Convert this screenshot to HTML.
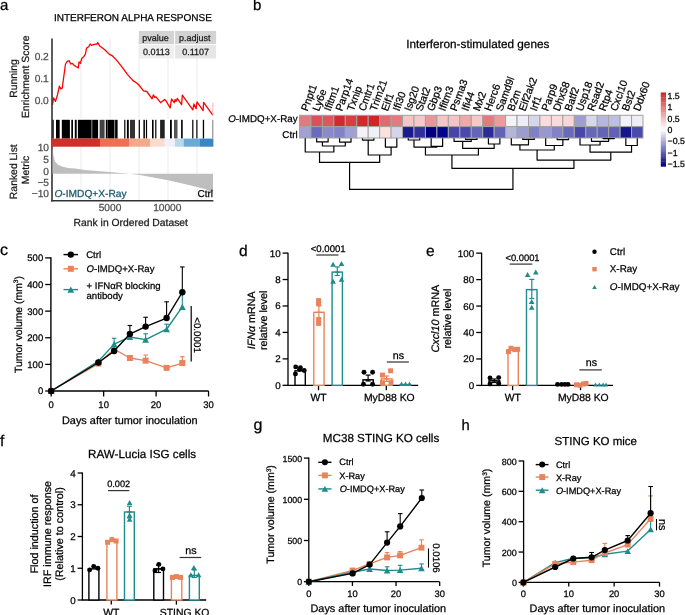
<!DOCTYPE html>
<html><head><meta charset="utf-8"><style>
html,body{margin:0;padding:0;background:#fff;}
svg{display:block;font-family:"Liberation Sans", sans-serif;text-rendering:geometricPrecision;filter:blur(0.3px);}
</style></head><body>
<svg width="685" height="615" viewBox="0 0 685 615">
<rect width="685" height="615" fill="#fff"/>
<text x="0.00" y="10.00" font-size="15" text-anchor="start" fill="#000"  stroke="#000" stroke-width="0.25">a</text>
<text x="54.00" y="20.80" font-size="10" text-anchor="start" fill="#000"  stroke="#000" stroke-width="0.25">INTERFERON ALPHA RESPONSE</text>
<line x1="81.00" y1="38.50" x2="81.00" y2="118.50" stroke="#ebebeb" stroke-width="1" />
<line x1="81.00" y1="147.00" x2="81.00" y2="200.00" stroke="#ebebeb" stroke-width="1" />
<line x1="110.00" y1="38.50" x2="110.00" y2="118.50" stroke="#ebebeb" stroke-width="1" />
<line x1="110.00" y1="147.00" x2="110.00" y2="200.00" stroke="#ebebeb" stroke-width="1" />
<line x1="139.00" y1="38.50" x2="139.00" y2="118.50" stroke="#ebebeb" stroke-width="1" />
<line x1="139.00" y1="147.00" x2="139.00" y2="200.00" stroke="#ebebeb" stroke-width="1" />
<line x1="168.00" y1="38.50" x2="168.00" y2="118.50" stroke="#ebebeb" stroke-width="1" />
<line x1="168.00" y1="147.00" x2="168.00" y2="200.00" stroke="#ebebeb" stroke-width="1" />
<line x1="197.00" y1="38.50" x2="197.00" y2="118.50" stroke="#ebebeb" stroke-width="1" />
<line x1="197.00" y1="147.00" x2="197.00" y2="200.00" stroke="#ebebeb" stroke-width="1" />
<rect x="138.90" y="30.90" width="35.10" height="13.20" fill="#d3d3d3" stroke="none" stroke-width="1" />
<rect x="175.10" y="30.90" width="41.00" height="13.20" fill="#d3d3d3" stroke="none" stroke-width="1" />
<rect x="138.90" y="45.00" width="35.10" height="13.50" fill="#efefef" stroke="none" stroke-width="1" />
<rect x="175.10" y="45.00" width="41.00" height="13.50" fill="#e6e6e6" stroke="none" stroke-width="1" />
<text x="155.60" y="41.00" font-size="9.0" text-anchor="middle" fill="#1a1a1a"  stroke="#1a1a1a" stroke-width="0.25">pvalue</text>
<text x="194.80" y="41.00" font-size="9.0" text-anchor="middle" fill="#1a1a1a"  stroke="#1a1a1a" stroke-width="0.25">p.adjust</text>
<text x="156.45" y="55.00" font-size="9.0" text-anchor="middle" fill="#1a1a1a"  stroke="#1a1a1a" stroke-width="0.25">0.0113</text>
<text x="195.60" y="55.00" font-size="9.0" text-anchor="middle" fill="#1a1a1a"  stroke="#1a1a1a" stroke-width="0.25">0.1107</text>
<polyline points="52.50,104.80 53.50,97.90 55.50,101.40 57.60,94.50 59.40,86.20 60.80,88.90 62.20,88.20 63.80,76.50 65.50,64.00 67.30,61.30 69.10,60.60 70.70,64.00 72.10,63.30 74.20,65.40 76.30,66.80 78.30,67.90 79.00,62.00 80.40,63.30 81.80,58.50 83.90,56.40 85.30,54.40 86.60,48.10 88.70,46.80 90.10,44.00 91.50,45.40 94.20,44.40 97.00,44.00 97.70,42.60 99.80,46.10 102.50,48.10 105.30,50.20 109.40,54.40 112.20,55.70 116.40,59.90 121.90,66.80 127.40,74.40 133.00,80.60 136.40,82.70 138.90,85.00 143.50,90.90 146.80,91.50 152.10,98.80 153.40,94.80 154.70,97.40 156.00,96.80 160.60,102.70 164.60,99.40 165.90,100.70 170.20,108.00 171.50,98.80 174.20,102.70 175.10,99.40 176.00,101.40 177.30,98.40 181.60,104.70 182.30,95.20 192.80,109.90 193.90,104.00 196.10,108.60 197.00,101.80 203.10,110.60 203.60,102.30 212.80,115.20" stroke="#ff0000" stroke-width="1.3" fill="none" stroke-linejoin="round" />
<line x1="212.80" y1="102.70" x2="212.80" y2="115.20" stroke="#ff9999" stroke-width="0.8" />
<line x1="52.00" y1="38.50" x2="52.00" y2="201.40" stroke="#333" stroke-width="1.6" />
<text x="48.80" y="59.90" font-size="10.2" text-anchor="end" fill="#4d4d4d"  stroke="#4d4d4d" stroke-width="0.25">0.2</text>
<text x="48.80" y="82.20" font-size="10.2" text-anchor="end" fill="#4d4d4d"  stroke="#4d4d4d" stroke-width="0.25">0.1</text>
<text x="48.80" y="104.40" font-size="10.2" text-anchor="end" fill="#4d4d4d"  stroke="#4d4d4d" stroke-width="0.25">0.0</text>
<text transform="translate(16.6,78.5) rotate(-90)" font-size="10.4" text-anchor="middle" fill="#1a1a1a" stroke="#1a1a1a" stroke-width="0.25">Running</text>
<text transform="translate(28.7,76.8) rotate(-90)" font-size="10.4" text-anchor="middle" fill="#1a1a1a" stroke="#1a1a1a" stroke-width="0.25">Enrichment Score</text>
<rect x="52.50" y="119.80" width="1.20" height="18.80" fill="#000" stroke="none" stroke-width="1" />
<rect x="56.00" y="119.80" width="3.70" height="18.80" fill="#000" stroke="none" stroke-width="1" />
<rect x="61.80" y="119.80" width="8.10" height="18.80" fill="#000" stroke="none" stroke-width="1" />
<rect x="71.30" y="119.80" width="1.70" height="18.80" fill="#000" stroke="none" stroke-width="1" />
<rect x="74.80" y="119.80" width="1.90" height="18.80" fill="#000" stroke="none" stroke-width="1" />
<rect x="77.90" y="119.80" width="13.70" height="18.80" fill="#000" stroke="none" stroke-width="1" />
<rect x="92.20" y="119.80" width="5.90" height="18.80" fill="#000" stroke="none" stroke-width="1" />
<rect x="99.60" y="119.80" width="5.00" height="18.80" fill="#444" stroke="none" stroke-width="1" />
<rect x="105.80" y="119.80" width="1.90" height="18.80" fill="#000" stroke="none" stroke-width="1" />
<rect x="108.00" y="119.80" width="6.50" height="18.80" fill="#000" stroke="none" stroke-width="1" />
<rect x="115.10" y="119.80" width="2.50" height="18.80" fill="#000" stroke="none" stroke-width="1" />
<rect x="124.20" y="119.80" width="1.20" height="18.80" fill="#000" stroke="none" stroke-width="1" />
<rect x="126.90" y="119.80" width="1.90" height="18.80" fill="#000" stroke="none" stroke-width="1" />
<rect x="130.00" y="119.80" width="5.00" height="18.80" fill="#333" stroke="none" stroke-width="1" />
<rect x="138.70" y="119.80" width="1.20" height="18.80" fill="#000" stroke="none" stroke-width="1" />
<rect x="143.40" y="119.80" width="1.50" height="18.80" fill="#000" stroke="none" stroke-width="1" />
<rect x="145.90" y="119.80" width="1.20" height="18.80" fill="#000" stroke="none" stroke-width="1" />
<rect x="152.00" y="119.80" width="1.60" height="18.80" fill="#000" stroke="none" stroke-width="1" />
<rect x="155.20" y="119.80" width="1.20" height="18.80" fill="#000" stroke="none" stroke-width="1" />
<rect x="160.10" y="119.80" width="4.60" height="18.80" fill="#222" stroke="none" stroke-width="1" />
<rect x="170.00" y="119.80" width="1.80" height="18.80" fill="#000" stroke="none" stroke-width="1" />
<rect x="174.00" y="119.80" width="3.50" height="18.80" fill="#555" stroke="none" stroke-width="1" />
<rect x="181.10" y="119.80" width="1.60" height="18.80" fill="#000" stroke="none" stroke-width="1" />
<rect x="192.00" y="119.80" width="1.50" height="18.80" fill="#333" stroke="none" stroke-width="1" />
<rect x="196.10" y="119.80" width="1.50" height="18.80" fill="#333" stroke="none" stroke-width="1" />
<rect x="202.80" y="119.80" width="1.30" height="18.80" fill="#000" stroke="none" stroke-width="1" />
<rect x="212.10" y="119.80" width="1.30" height="18.80" fill="#999" stroke="none" stroke-width="1" />
<rect x="52.00" y="138.60" width="48.00" height="8.10" fill="#d0302a" stroke="none" stroke-width="1" />
<rect x="100.00" y="138.60" width="29.00" height="8.10" fill="#ee7050" stroke="none" stroke-width="1" />
<rect x="129.00" y="138.60" width="21.00" height="8.10" fill="#f5a98a" stroke="none" stroke-width="1" />
<rect x="150.00" y="138.60" width="14.70" height="8.10" fill="#fbdccc" stroke="none" stroke-width="1" />
<rect x="164.70" y="138.60" width="10.30" height="8.10" fill="#eef0fb" stroke="none" stroke-width="1" />
<rect x="175.00" y="138.60" width="8.60" height="8.10" fill="#b9d8e8" stroke="none" stroke-width="1" />
<rect x="183.60" y="138.60" width="16.40" height="8.10" fill="#6aaad6" stroke="none" stroke-width="1" />
<rect x="200.00" y="138.60" width="13.40" height="8.10" fill="#3a86c2" stroke="none" stroke-width="1" />
<polygon points="52.50,147.00 53.50,156.00 55.00,161.40 58.00,164.70 62.00,166.60 68.00,168.00 75.00,168.60 85.00,170.00 100.00,171.20 115.00,172.60 130.00,173.70 140.00,175.00 168.00,180.20 190.00,185.30 205.00,189.00 213.00,192.60 213.00,173.70 52.50,173.70" fill="#bebebe" stroke="none" stroke-width="1" />
<line x1="51.20" y1="200.70" x2="213.40" y2="200.70" stroke="#333" stroke-width="1.5" />
<text x="49.00" y="150.80" font-size="10.2" text-anchor="end" fill="#4d4d4d"  stroke="#4d4d4d" stroke-width="0.25">10</text>
<text x="49.00" y="162.90" font-size="10.2" text-anchor="end" fill="#4d4d4d"  stroke="#4d4d4d" stroke-width="0.25">5</text>
<text x="49.00" y="174.50" font-size="10.2" text-anchor="end" fill="#4d4d4d"  stroke="#4d4d4d" stroke-width="0.25">0</text>
<text x="49.00" y="186.20" font-size="10.2" text-anchor="end" fill="#4d4d4d"  stroke="#4d4d4d" stroke-width="0.25">−5</text>
<text x="49.00" y="197.40" font-size="10.2" text-anchor="end" fill="#4d4d4d"  stroke="#4d4d4d" stroke-width="0.25">−10</text>
<text transform="translate(16.6,171.7) rotate(-90)" font-size="10.4" text-anchor="middle" fill="#1a1a1a" stroke="#1a1a1a" stroke-width="0.25">Ranked List</text>
<text transform="translate(28.7,170) rotate(-90)" font-size="10.4" text-anchor="middle" fill="#1a1a1a" stroke="#1a1a1a" stroke-width="0.25">Metric</text>
<text x="54.40" y="197.10" font-size="10.2" text-anchor="start" fill="#17596e"  stroke="#17596e" stroke-width="0.25"><tspan font-style="italic">O</tspan>-IMDQ+X-Ray</text>
<text x="213.00" y="197.10" font-size="10.0" text-anchor="end" fill="#000"  stroke="#000" stroke-width="0.25">Ctrl</text>
<text x="110.00" y="211.20" font-size="10.2" text-anchor="middle" fill="#4d4d4d"  stroke="#4d4d4d" stroke-width="0.25">5000</text>
<text x="167.30" y="211.20" font-size="10.2" text-anchor="middle" fill="#4d4d4d"  stroke="#4d4d4d" stroke-width="0.25">10000</text>
<text x="130.80" y="225.80" font-size="10.35" text-anchor="middle" fill="#1a1a1a"  stroke="#1a1a1a" stroke-width="0.25">Rank in Ordered Dataset</text>
<text x="253.00" y="10.30" font-size="15" text-anchor="start" fill="#000"  stroke="#000" stroke-width="0.25">b</text>
<text x="406.30" y="47.50" font-size="11.75" text-anchor="start" fill="#000"  stroke="#000" stroke-width="0.25">Interferon-stimulated genes</text>
<rect x="299.50" y="115.30" width="11.45" height="11.30" fill="#e07a7e" stroke="#a3a3a3" stroke-width="1" />
<rect x="299.50" y="126.60" width="11.45" height="11.40" fill="#a0a0d2" stroke="#a3a3a3" stroke-width="1" />
<rect x="310.95" y="115.30" width="11.45" height="11.30" fill="#db5157" stroke="#a3a3a3" stroke-width="1" />
<rect x="310.95" y="126.60" width="11.45" height="11.40" fill="#6a6abf" stroke="#a3a3a3" stroke-width="1" />
<rect x="322.40" y="115.30" width="11.45" height="11.30" fill="#dc575c" stroke="#a3a3a3" stroke-width="1" />
<rect x="322.40" y="126.60" width="11.45" height="11.40" fill="#8a8acb" stroke="#a3a3a3" stroke-width="1" />
<rect x="333.85" y="115.30" width="11.45" height="11.30" fill="#d12b2e" stroke="#a3a3a3" stroke-width="1" />
<rect x="333.85" y="126.60" width="11.45" height="11.40" fill="#8282c8" stroke="#a3a3a3" stroke-width="1" />
<rect x="345.30" y="115.30" width="11.45" height="11.30" fill="#d83f42" stroke="#a3a3a3" stroke-width="1" />
<rect x="345.30" y="126.60" width="11.45" height="11.40" fill="#a0a0d4" stroke="#a3a3a3" stroke-width="1" />
<rect x="356.75" y="115.30" width="11.45" height="11.30" fill="#d02a2d" stroke="#a3a3a3" stroke-width="1" />
<rect x="356.75" y="126.60" width="11.45" height="11.40" fill="#f2f2f8" stroke="#a3a3a3" stroke-width="1" />
<rect x="368.20" y="115.30" width="11.45" height="11.30" fill="#d02428" stroke="#a3a3a3" stroke-width="1" />
<rect x="368.20" y="126.60" width="11.45" height="11.40" fill="#f0f0f7" stroke="#a3a3a3" stroke-width="1" />
<rect x="379.65" y="115.30" width="11.45" height="11.30" fill="#e06a6d" stroke="#a3a3a3" stroke-width="1" />
<rect x="379.65" y="126.60" width="11.45" height="11.40" fill="#fbe0e0" stroke="#a3a3a3" stroke-width="1" />
<rect x="391.10" y="115.30" width="11.45" height="11.30" fill="#e37b7e" stroke="#a3a3a3" stroke-width="1" />
<rect x="391.10" y="126.60" width="11.45" height="11.40" fill="#d4d4ea" stroke="#a3a3a3" stroke-width="1" />
<rect x="402.55" y="115.30" width="11.45" height="11.30" fill="#f5c6c8" stroke="#a3a3a3" stroke-width="1" />
<rect x="402.55" y="126.60" width="11.45" height="11.40" fill="#1a1a8f" stroke="#a3a3a3" stroke-width="1" />
<rect x="414.00" y="115.30" width="11.45" height="11.30" fill="#f5c8ca" stroke="#a3a3a3" stroke-width="1" />
<rect x="414.00" y="126.60" width="11.45" height="11.40" fill="#30309b" stroke="#a3a3a3" stroke-width="1" />
<rect x="425.45" y="115.30" width="11.45" height="11.30" fill="#ea9598" stroke="#a3a3a3" stroke-width="1" />
<rect x="425.45" y="126.60" width="11.45" height="11.40" fill="#000080" stroke="#a3a3a3" stroke-width="1" />
<rect x="436.90" y="115.30" width="11.45" height="11.30" fill="#f5c6c8" stroke="#a3a3a3" stroke-width="1" />
<rect x="436.90" y="126.60" width="11.45" height="11.40" fill="#05058a" stroke="#a3a3a3" stroke-width="1" />
<rect x="448.35" y="115.30" width="11.45" height="11.30" fill="#f5c3c5" stroke="#a3a3a3" stroke-width="1" />
<rect x="448.35" y="126.60" width="11.45" height="11.40" fill="#4646a8" stroke="#a3a3a3" stroke-width="1" />
<rect x="459.80" y="115.30" width="11.45" height="11.30" fill="#f0a8aa" stroke="#a3a3a3" stroke-width="1" />
<rect x="459.80" y="126.60" width="11.45" height="11.40" fill="#4a4aaa" stroke="#a3a3a3" stroke-width="1" />
<rect x="471.25" y="115.30" width="11.45" height="11.30" fill="#f5c8ca" stroke="#a3a3a3" stroke-width="1" />
<rect x="471.25" y="126.60" width="11.45" height="11.40" fill="#6464b8" stroke="#a3a3a3" stroke-width="1" />
<rect x="482.70" y="115.30" width="11.45" height="11.30" fill="#e57a7d" stroke="#a3a3a3" stroke-width="1" />
<rect x="482.70" y="126.60" width="11.45" height="11.40" fill="#2c2c99" stroke="#a3a3a3" stroke-width="1" />
<rect x="494.15" y="115.30" width="11.45" height="11.30" fill="#ec9a9c" stroke="#a3a3a3" stroke-width="1" />
<rect x="494.15" y="126.60" width="11.45" height="11.40" fill="#6262b6" stroke="#a3a3a3" stroke-width="1" />
<rect x="505.60" y="115.30" width="11.45" height="11.30" fill="#f2f2f7" stroke="#a3a3a3" stroke-width="1" />
<rect x="505.60" y="126.60" width="11.45" height="11.40" fill="#b5b5dc" stroke="#a3a3a3" stroke-width="1" />
<rect x="517.05" y="115.30" width="11.45" height="11.30" fill="#eeeef6" stroke="#a3a3a3" stroke-width="1" />
<rect x="517.05" y="126.60" width="11.45" height="11.40" fill="#9c9cd0" stroke="#a3a3a3" stroke-width="1" />
<rect x="528.50" y="115.30" width="11.45" height="11.30" fill="#d6d6ec" stroke="#a3a3a3" stroke-width="1" />
<rect x="528.50" y="126.60" width="11.45" height="11.40" fill="#8080c4" stroke="#a3a3a3" stroke-width="1" />
<rect x="539.95" y="115.30" width="11.45" height="11.30" fill="#fadcdd" stroke="#a3a3a3" stroke-width="1" />
<rect x="539.95" y="126.60" width="11.45" height="11.40" fill="#9898ce" stroke="#a3a3a3" stroke-width="1" />
<rect x="551.40" y="115.30" width="11.45" height="11.30" fill="#fadadb" stroke="#a3a3a3" stroke-width="1" />
<rect x="551.40" y="126.60" width="11.45" height="11.40" fill="#8282c6" stroke="#a3a3a3" stroke-width="1" />
<rect x="562.85" y="115.30" width="11.45" height="11.30" fill="#f9d6d8" stroke="#a3a3a3" stroke-width="1" />
<rect x="562.85" y="126.60" width="11.45" height="11.40" fill="#6a6aba" stroke="#a3a3a3" stroke-width="1" />
<rect x="574.30" y="115.30" width="11.45" height="11.30" fill="#9e9ed2" stroke="#a3a3a3" stroke-width="1" />
<rect x="574.30" y="126.60" width="11.45" height="11.40" fill="#4848a8" stroke="#a3a3a3" stroke-width="1" />
<rect x="585.75" y="115.30" width="11.45" height="11.30" fill="#d7d7ec" stroke="#a3a3a3" stroke-width="1" />
<rect x="585.75" y="126.60" width="11.45" height="11.40" fill="#6767b8" stroke="#a3a3a3" stroke-width="1" />
<rect x="597.20" y="115.30" width="11.45" height="11.30" fill="#b7b7dd" stroke="#a3a3a3" stroke-width="1" />
<rect x="597.20" y="126.60" width="11.45" height="11.40" fill="#6464b6" stroke="#a3a3a3" stroke-width="1" />
<rect x="608.65" y="115.30" width="11.45" height="11.30" fill="#bebee0" stroke="#a3a3a3" stroke-width="1" />
<rect x="608.65" y="126.60" width="11.45" height="11.40" fill="#6060b4" stroke="#a3a3a3" stroke-width="1" />
<rect x="620.10" y="115.30" width="11.45" height="11.30" fill="#f1f1f7" stroke="#a3a3a3" stroke-width="1" />
<rect x="620.10" y="126.60" width="11.45" height="11.40" fill="#16168c" stroke="#a3a3a3" stroke-width="1" />
<rect x="631.55" y="115.30" width="11.45" height="11.30" fill="#eeeef6" stroke="#a3a3a3" stroke-width="1" />
<rect x="631.55" y="126.60" width="11.45" height="11.40" fill="#4a4aaa" stroke="#a3a3a3" stroke-width="1" />
<text transform="translate(307.62,111.8) rotate(-70)" font-size="10.5" fill="#000" stroke="#000" stroke-width="0.25">Pnpt1</text>
<text transform="translate(319.07,111.8) rotate(-70)" font-size="10.5" fill="#000" stroke="#000" stroke-width="0.25">Ly6e</text>
<text transform="translate(330.52,111.8) rotate(-70)" font-size="10.5" fill="#000" stroke="#000" stroke-width="0.25">Ifitm1</text>
<text transform="translate(341.97,111.8) rotate(-70)" font-size="10.5" fill="#000" stroke="#000" stroke-width="0.25">Parp14</text>
<text transform="translate(353.42,111.8) rotate(-70)" font-size="10.5" fill="#000" stroke="#000" stroke-width="0.25">Txnip</text>
<text transform="translate(364.88,111.8) rotate(-70)" font-size="10.5" fill="#000" stroke="#000" stroke-width="0.25">Cmtr1</text>
<text transform="translate(376.32,111.8) rotate(-70)" font-size="10.5" fill="#000" stroke="#000" stroke-width="0.25">Trim21</text>
<text transform="translate(387.77,111.8) rotate(-70)" font-size="10.5" fill="#000" stroke="#000" stroke-width="0.25">Eif1</text>
<text transform="translate(399.22,111.8) rotate(-70)" font-size="10.5" fill="#000" stroke="#000" stroke-width="0.25">Ifi30</text>
<text transform="translate(410.67,111.8) rotate(-70)" font-size="10.5" fill="#000" stroke="#000" stroke-width="0.25">Isg20</text>
<text transform="translate(422.12,111.8) rotate(-70)" font-size="10.5" fill="#000" stroke="#000" stroke-width="0.25">Stat2</text>
<text transform="translate(433.57,111.8) rotate(-70)" font-size="10.5" fill="#000" stroke="#000" stroke-width="0.25">Gbp3</text>
<text transform="translate(445.02,111.8) rotate(-70)" font-size="10.5" fill="#000" stroke="#000" stroke-width="0.25">Ifitm3</text>
<text transform="translate(456.47,111.8) rotate(-70)" font-size="10.5" fill="#000" stroke="#000" stroke-width="0.25">Psma3</text>
<text transform="translate(467.92,111.8) rotate(-70)" font-size="10.5" fill="#000" stroke="#000" stroke-width="0.25">Ifi44</text>
<text transform="translate(479.38,111.8) rotate(-70)" font-size="10.5" fill="#000" stroke="#000" stroke-width="0.25">Mx2</text>
<text transform="translate(490.82,111.8) rotate(-70)" font-size="10.5" fill="#000" stroke="#000" stroke-width="0.25">Herc6</text>
<text transform="translate(502.27,111.8) rotate(-70)" font-size="10.5" fill="#000" stroke="#000" stroke-width="0.25">Samd9l</text>
<text transform="translate(513.73,111.8) rotate(-70)" font-size="10.5" fill="#000" stroke="#000" stroke-width="0.25">B2m</text>
<text transform="translate(525.17,111.8) rotate(-70)" font-size="10.5" fill="#000" stroke="#000" stroke-width="0.25">Eif2ak2</text>
<text transform="translate(536.62,111.8) rotate(-70)" font-size="10.5" fill="#000" stroke="#000" stroke-width="0.25">Irf1</text>
<text transform="translate(548.07,111.8) rotate(-70)" font-size="10.5" fill="#000" stroke="#000" stroke-width="0.25">Parp9</text>
<text transform="translate(559.52,111.8) rotate(-70)" font-size="10.5" fill="#000" stroke="#000" stroke-width="0.25">Dhx58</text>
<text transform="translate(570.98,111.8) rotate(-70)" font-size="10.5" fill="#000" stroke="#000" stroke-width="0.25">Batf2</text>
<text transform="translate(582.42,111.8) rotate(-70)" font-size="10.5" fill="#000" stroke="#000" stroke-width="0.25">Usp18</text>
<text transform="translate(593.87,111.8) rotate(-70)" font-size="10.5" fill="#000" stroke="#000" stroke-width="0.25">Rsad2</text>
<text transform="translate(605.32,111.8) rotate(-70)" font-size="10.5" fill="#000" stroke="#000" stroke-width="0.25">Rtp4</text>
<text transform="translate(616.77,111.8) rotate(-70)" font-size="10.5" fill="#000" stroke="#000" stroke-width="0.25">Cxcl10</text>
<text transform="translate(628.23,111.8) rotate(-70)" font-size="10.5" fill="#000" stroke="#000" stroke-width="0.25">Bst2</text>
<text transform="translate(639.67,111.8) rotate(-70)" font-size="10.5" fill="#000" stroke="#000" stroke-width="0.25">Ddx60</text>
<text x="297.60" y="121.80" font-size="9.8" text-anchor="end" fill="#000"  stroke="#000" stroke-width="0.25"><tspan font-style="italic">O</tspan>-IMDQ+X-Ray</text>
<text x="297.60" y="138.10" font-size="9.8" text-anchor="end" fill="#000"  stroke="#000" stroke-width="0.25">Ctrl</text>
<polyline points="316.68,138.30 316.68,141.90 328.12,141.90 328.12,138.30" stroke="#000" stroke-width="1.2" fill="none" stroke-linejoin="round" stroke-linejoin="miter"/>
<polyline points="339.57,138.30 339.57,142.10 351.02,142.10 351.02,138.30" stroke="#000" stroke-width="1.2" fill="none" stroke-linejoin="round" stroke-linejoin="miter"/>
<polyline points="322.40,141.90 322.40,146.00 345.30,146.00 345.30,142.10" stroke="#000" stroke-width="1.2" fill="none" stroke-linejoin="round" stroke-linejoin="miter"/>
<polyline points="305.23,138.30 305.23,152.00 333.85,152.00 333.85,146.00" stroke="#000" stroke-width="1.2" fill="none" stroke-linejoin="round" stroke-linejoin="miter"/>
<polyline points="362.48,138.30 362.48,140.10 373.93,140.10 373.93,138.30" stroke="#000" stroke-width="1.2" fill="none" stroke-linejoin="round" stroke-linejoin="miter"/>
<polyline points="385.38,138.30 385.38,147.10 396.82,147.10 396.82,138.30" stroke="#000" stroke-width="1.2" fill="none" stroke-linejoin="round" stroke-linejoin="miter"/>
<polyline points="368.20,140.10 368.20,155.00 391.10,155.00 391.10,147.10" stroke="#000" stroke-width="1.2" fill="none" stroke-linejoin="round" stroke-linejoin="miter"/>
<polyline points="319.54,152.00 319.54,162.40 379.65,162.40 379.65,155.00" stroke="#000" stroke-width="1.2" fill="none" stroke-linejoin="round" stroke-linejoin="miter"/>
<polyline points="408.27,138.30 408.27,140.00 419.73,140.00 419.73,138.30" stroke="#000" stroke-width="1.2" fill="none" stroke-linejoin="round" stroke-linejoin="miter"/>
<polyline points="431.17,138.30 431.17,146.40 442.62,146.40 442.62,138.30" stroke="#000" stroke-width="1.2" fill="none" stroke-linejoin="round" stroke-linejoin="miter"/>
<polyline points="414.00,140.00 414.00,147.10 436.90,147.10 436.90,146.40" stroke="#000" stroke-width="1.2" fill="none" stroke-linejoin="round" stroke-linejoin="miter"/>
<polyline points="465.52,138.30 465.52,139.40 476.98,139.40 476.98,138.30" stroke="#000" stroke-width="1.2" fill="none" stroke-linejoin="round" stroke-linejoin="miter"/>
<polyline points="454.07,138.30 454.07,141.40 471.25,141.40 471.25,139.40" stroke="#000" stroke-width="1.2" fill="none" stroke-linejoin="round" stroke-linejoin="miter"/>
<polyline points="488.42,138.30 488.42,144.00 499.88,144.00 499.88,138.30" stroke="#000" stroke-width="1.2" fill="none" stroke-linejoin="round" stroke-linejoin="miter"/>
<polyline points="462.66,141.40 462.66,148.40 494.15,148.40 494.15,144.00" stroke="#000" stroke-width="1.2" fill="none" stroke-linejoin="round" stroke-linejoin="miter"/>
<polyline points="425.45,147.10 425.45,155.00 478.41,155.00 478.41,148.40" stroke="#000" stroke-width="1.2" fill="none" stroke-linejoin="round" stroke-linejoin="miter"/>
<polyline points="522.77,138.30 522.77,139.40 534.23,139.40 534.23,138.30" stroke="#000" stroke-width="1.2" fill="none" stroke-linejoin="round" stroke-linejoin="miter"/>
<polyline points="511.32,138.30 511.32,144.90 528.50,144.90 528.50,139.40" stroke="#000" stroke-width="1.2" fill="none" stroke-linejoin="round" stroke-linejoin="miter"/>
<polyline points="557.12,138.30 557.12,139.60 568.58,139.60 568.58,138.30" stroke="#000" stroke-width="1.2" fill="none" stroke-linejoin="round" stroke-linejoin="miter"/>
<polyline points="545.67,138.30 545.67,145.50 562.85,145.50 562.85,139.60" stroke="#000" stroke-width="1.2" fill="none" stroke-linejoin="round" stroke-linejoin="miter"/>
<polyline points="519.91,144.90 519.91,150.00 554.26,150.00 554.26,145.50" stroke="#000" stroke-width="1.2" fill="none" stroke-linejoin="round" stroke-linejoin="miter"/>
<polyline points="602.92,138.30 602.92,138.60 614.38,138.60 614.38,138.30" stroke="#000" stroke-width="1.2" fill="none" stroke-linejoin="round" stroke-linejoin="miter"/>
<polyline points="591.47,138.30 591.47,141.30 608.65,141.30 608.65,138.60" stroke="#000" stroke-width="1.2" fill="none" stroke-linejoin="round" stroke-linejoin="miter"/>
<polyline points="580.02,138.30 580.02,145.00 600.06,145.00 600.06,141.30" stroke="#000" stroke-width="1.2" fill="none" stroke-linejoin="round" stroke-linejoin="miter"/>
<polyline points="625.83,138.30 625.83,145.50 637.27,145.50 637.27,138.30" stroke="#000" stroke-width="1.2" fill="none" stroke-linejoin="round" stroke-linejoin="miter"/>
<polyline points="590.04,145.00 590.04,152.20 631.55,152.20 631.55,145.50" stroke="#000" stroke-width="1.2" fill="none" stroke-linejoin="round" stroke-linejoin="miter"/>
<polyline points="537.09,150.00 537.09,160.10 610.80,160.10 610.80,152.20" stroke="#000" stroke-width="1.2" fill="none" stroke-linejoin="round" stroke-linejoin="miter"/>
<polyline points="451.93,155.00 451.93,168.30 573.94,168.30 573.94,160.10" stroke="#000" stroke-width="1.2" fill="none" stroke-linejoin="round" stroke-linejoin="miter"/>
<polyline points="349.59,162.40 349.59,189.40 512.94,189.40 512.94,168.30" stroke="#000" stroke-width="1.2" fill="none" stroke-linejoin="round" stroke-linejoin="miter"/>
<rect x="660.80" y="92.40" width="5.20" height="2.77" fill="#cf2d2d" stroke="none" stroke-width="1" />
<rect x="660.80" y="94.87" width="5.20" height="2.77" fill="#d23c3c" stroke="none" stroke-width="1" />
<rect x="660.80" y="97.33" width="5.20" height="2.77" fill="#d54a4a" stroke="none" stroke-width="1" />
<rect x="660.80" y="99.80" width="5.20" height="2.77" fill="#d95959" stroke="none" stroke-width="1" />
<rect x="660.80" y="102.27" width="5.20" height="2.77" fill="#dc6767" stroke="none" stroke-width="1" />
<rect x="660.80" y="104.73" width="5.20" height="2.77" fill="#df7676" stroke="none" stroke-width="1" />
<rect x="660.80" y="107.20" width="5.20" height="2.77" fill="#e38484" stroke="none" stroke-width="1" />
<rect x="660.80" y="109.67" width="5.20" height="2.77" fill="#e69292" stroke="none" stroke-width="1" />
<rect x="660.80" y="112.13" width="5.20" height="2.77" fill="#e9a1a1" stroke="none" stroke-width="1" />
<rect x="660.80" y="114.60" width="5.20" height="2.77" fill="#edafaf" stroke="none" stroke-width="1" />
<rect x="660.80" y="117.07" width="5.20" height="2.77" fill="#f0bebe" stroke="none" stroke-width="1" />
<rect x="660.80" y="119.53" width="5.20" height="2.77" fill="#f3cccc" stroke="none" stroke-width="1" />
<rect x="660.80" y="122.00" width="5.20" height="2.77" fill="#f7dbdb" stroke="none" stroke-width="1" />
<rect x="660.80" y="124.47" width="5.20" height="2.77" fill="#fae9e9" stroke="none" stroke-width="1" />
<rect x="660.80" y="126.93" width="5.20" height="2.77" fill="#fdf8f8" stroke="none" stroke-width="1" />
<rect x="660.80" y="129.40" width="5.20" height="2.77" fill="#f6f6fb" stroke="none" stroke-width="1" />
<rect x="660.80" y="131.87" width="5.20" height="2.77" fill="#e6e6f2" stroke="none" stroke-width="1" />
<rect x="660.80" y="134.33" width="5.20" height="2.77" fill="#d4d4ea" stroke="none" stroke-width="1" />
<rect x="660.80" y="136.80" width="5.20" height="2.77" fill="#c3c3e1" stroke="none" stroke-width="1" />
<rect x="660.80" y="139.27" width="5.20" height="2.77" fill="#b2b2d9" stroke="none" stroke-width="1" />
<rect x="660.80" y="141.73" width="5.20" height="2.77" fill="#a2a2d0" stroke="none" stroke-width="1" />
<rect x="660.80" y="144.20" width="5.20" height="2.77" fill="#9090c8" stroke="none" stroke-width="1" />
<rect x="660.80" y="146.67" width="5.20" height="2.77" fill="#7f7fc0" stroke="none" stroke-width="1" />
<rect x="660.80" y="149.13" width="5.20" height="2.77" fill="#6e6eb7" stroke="none" stroke-width="1" />
<rect x="660.80" y="151.60" width="5.20" height="2.77" fill="#5e5eaf" stroke="none" stroke-width="1" />
<rect x="660.80" y="154.07" width="5.20" height="2.77" fill="#4c4ca6" stroke="none" stroke-width="1" />
<rect x="660.80" y="156.53" width="5.20" height="2.77" fill="#3b3b9e" stroke="none" stroke-width="1" />
<rect x="660.80" y="159.00" width="5.20" height="2.77" fill="#2a2a95" stroke="none" stroke-width="1" />
<rect x="660.80" y="161.47" width="5.20" height="2.77" fill="#19198d" stroke="none" stroke-width="1" />
<rect x="660.80" y="163.93" width="5.20" height="2.77" fill="#080884" stroke="none" stroke-width="1" />
<text x="667.50" y="99.00" font-size="8.8" text-anchor="start" fill="#000"  stroke="#000" stroke-width="0.25">1.5</text>
<text x="667.50" y="110.30" font-size="8.8" text-anchor="start" fill="#000"  stroke="#000" stroke-width="0.25">1</text>
<text x="667.50" y="121.60" font-size="8.8" text-anchor="start" fill="#000"  stroke="#000" stroke-width="0.25">0.5</text>
<text x="667.50" y="133.00" font-size="8.8" text-anchor="start" fill="#000"  stroke="#000" stroke-width="0.25">0</text>
<text x="667.50" y="144.40" font-size="8.8" text-anchor="start" fill="#000"  stroke="#000" stroke-width="0.25">−0.5</text>
<text x="667.50" y="156.00" font-size="8.8" text-anchor="start" fill="#000"  stroke="#000" stroke-width="0.25">−1</text>
<text x="667.50" y="166.90" font-size="8.8" text-anchor="start" fill="#000"  stroke="#000" stroke-width="0.25">−1.5</text>
<text x="0.00" y="255.00" font-size="16" text-anchor="start" fill="#000"  stroke="#000" stroke-width="0.25">c</text>
<line x1="50.90" y1="257.30" x2="50.90" y2="391.60" stroke="#000" stroke-width="1.4" />
<line x1="50.20" y1="391.00" x2="208.60" y2="391.00" stroke="#000" stroke-width="1.4" />
<line x1="45.20" y1="391.00" x2="50.90" y2="391.00" stroke="#000" stroke-width="1.3" />
<text x="43.20" y="394.40" font-size="9.5" text-anchor="end" fill="#000"  stroke="#000" stroke-width="0.25">0</text>
<line x1="45.20" y1="364.38" x2="50.90" y2="364.38" stroke="#000" stroke-width="1.3" />
<text x="43.20" y="367.78" font-size="9.5" text-anchor="end" fill="#000"  stroke="#000" stroke-width="0.25">100</text>
<line x1="45.20" y1="337.76" x2="50.90" y2="337.76" stroke="#000" stroke-width="1.3" />
<text x="43.20" y="341.16" font-size="9.5" text-anchor="end" fill="#000"  stroke="#000" stroke-width="0.25">200</text>
<line x1="45.20" y1="311.14" x2="50.90" y2="311.14" stroke="#000" stroke-width="1.3" />
<text x="43.20" y="314.54" font-size="9.5" text-anchor="end" fill="#000"  stroke="#000" stroke-width="0.25">300</text>
<line x1="45.20" y1="284.52" x2="50.90" y2="284.52" stroke="#000" stroke-width="1.3" />
<text x="43.20" y="287.92" font-size="9.5" text-anchor="end" fill="#000"  stroke="#000" stroke-width="0.25">400</text>
<line x1="45.20" y1="257.90" x2="50.90" y2="257.90" stroke="#000" stroke-width="1.3" />
<text x="43.20" y="261.30" font-size="9.5" text-anchor="end" fill="#000"  stroke="#000" stroke-width="0.25">500</text>
<line x1="51.20" y1="391.00" x2="51.20" y2="396.50" stroke="#000" stroke-width="1.3" />
<text x="51.20" y="407.80" font-size="9.5" text-anchor="middle" fill="#000"  stroke="#000" stroke-width="0.25">0</text>
<line x1="103.65" y1="391.00" x2="103.65" y2="396.50" stroke="#000" stroke-width="1.3" />
<text x="103.65" y="407.80" font-size="9.5" text-anchor="middle" fill="#000"  stroke="#000" stroke-width="0.25">10</text>
<line x1="156.10" y1="391.00" x2="156.10" y2="396.50" stroke="#000" stroke-width="1.3" />
<text x="156.10" y="407.80" font-size="9.5" text-anchor="middle" fill="#000"  stroke="#000" stroke-width="0.25">20</text>
<line x1="208.55" y1="391.00" x2="208.55" y2="396.50" stroke="#000" stroke-width="1.3" />
<text x="208.55" y="407.80" font-size="9.5" text-anchor="middle" fill="#000"  stroke="#000" stroke-width="0.25">30</text>
<text x="129.80" y="424.00" font-size="10.9" text-anchor="middle" fill="#000"  stroke="#000" stroke-width="0.25">Days after tumor inoculation</text>
<text transform="translate(21.8,324.5) rotate(-90)" font-size="10.4" text-anchor="middle" fill="#000" stroke="#000" stroke-width="0.25">Tumor volume (mm<tspan font-size="6.5" dy="-3.5">3</tspan><tspan dy="3.5">)</tspan></text>
<line x1="114.14" y1="344.15" x2="114.14" y2="338.29" stroke="#1f8b8b" stroke-width="1.1" />
<line x1="111.84" y1="338.29" x2="116.44" y2="338.29" stroke="#1f8b8b" stroke-width="1.1" />
<line x1="145.61" y1="339.62" x2="145.61" y2="333.77" stroke="#1f8b8b" stroke-width="1.1" />
<line x1="143.31" y1="333.77" x2="147.91" y2="333.77" stroke="#1f8b8b" stroke-width="1.1" />
<line x1="166.59" y1="329.24" x2="166.59" y2="324.18" stroke="#1f8b8b" stroke-width="1.1" />
<line x1="164.29" y1="324.18" x2="168.89" y2="324.18" stroke="#1f8b8b" stroke-width="1.1" />
<line x1="182.32" y1="306.88" x2="182.32" y2="292.51" stroke="#1f8b8b" stroke-width="1.1" />
<line x1="180.02" y1="292.51" x2="184.62" y2="292.51" stroke="#1f8b8b" stroke-width="1.1" />
<line x1="145.61" y1="360.65" x2="145.61" y2="355.06" stroke="#e8845d" stroke-width="1.1" />
<line x1="143.31" y1="355.06" x2="147.91" y2="355.06" stroke="#e8845d" stroke-width="1.1" />
<line x1="182.32" y1="363.05" x2="182.32" y2="356.66" stroke="#e8845d" stroke-width="1.1" />
<line x1="180.02" y1="356.66" x2="184.62" y2="356.66" stroke="#e8845d" stroke-width="1.1" />
<line x1="129.88" y1="334.03" x2="129.88" y2="325.51" stroke="#000" stroke-width="1.1" />
<line x1="127.58" y1="325.51" x2="132.18" y2="325.51" stroke="#000" stroke-width="1.1" />
<line x1="145.61" y1="326.58" x2="145.61" y2="317.26" stroke="#000" stroke-width="1.1" />
<line x1="143.31" y1="317.26" x2="147.91" y2="317.26" stroke="#000" stroke-width="1.1" />
<line x1="166.59" y1="318.06" x2="166.59" y2="301.82" stroke="#000" stroke-width="1.1" />
<line x1="164.29" y1="301.82" x2="168.89" y2="301.82" stroke="#000" stroke-width="1.1" />
<line x1="182.32" y1="292.24" x2="182.32" y2="266.95" stroke="#000" stroke-width="1.1" />
<line x1="180.02" y1="266.95" x2="184.62" y2="266.95" stroke="#000" stroke-width="1.1" />
<polyline points="51.20,391.00 98.41,363.58 114.14,349.21 129.88,357.99 145.61,360.65 166.59,367.84 182.32,363.05" stroke="#e8845d" stroke-width="1.4" fill="none" stroke-linejoin="round" />
<rect x="48.20" y="388.00" width="6.00" height="6.00" fill="#e8845d" stroke="none" stroke-width="1" />
<rect x="95.41" y="360.58" width="6.00" height="6.00" fill="#e8845d" stroke="none" stroke-width="1" />
<rect x="111.14" y="346.21" width="6.00" height="6.00" fill="#e8845d" stroke="none" stroke-width="1" />
<rect x="126.88" y="354.99" width="6.00" height="6.00" fill="#e8845d" stroke="none" stroke-width="1" />
<rect x="142.61" y="357.65" width="6.00" height="6.00" fill="#e8845d" stroke="none" stroke-width="1" />
<rect x="163.59" y="364.84" width="6.00" height="6.00" fill="#e8845d" stroke="none" stroke-width="1" />
<rect x="179.32" y="360.05" width="6.00" height="6.00" fill="#e8845d" stroke="none" stroke-width="1" />
<polyline points="51.20,391.00 98.41,361.19 114.14,344.15 129.88,336.96 145.61,339.62 166.59,329.24 182.32,306.88" stroke="#1f8b8b" stroke-width="1.4" fill="none" stroke-linejoin="round" />
<polygon points="47.80,394.06 54.60,394.06 51.20,387.94" fill="#1f8b8b" stroke="none" stroke-width="1" />
<polygon points="95.00,364.25 101.81,364.25 98.41,358.13" fill="#1f8b8b" stroke="none" stroke-width="1" />
<polygon points="110.74,347.21 117.54,347.21 114.14,341.09" fill="#1f8b8b" stroke="none" stroke-width="1" />
<polygon points="126.47,340.02 133.28,340.02 129.88,333.90" fill="#1f8b8b" stroke="none" stroke-width="1" />
<polygon points="142.21,342.68 149.01,342.68 145.61,336.56" fill="#1f8b8b" stroke="none" stroke-width="1" />
<polygon points="163.19,332.30 169.99,332.30 166.59,326.18" fill="#1f8b8b" stroke="none" stroke-width="1" />
<polygon points="178.92,309.94 185.72,309.94 182.32,303.82" fill="#1f8b8b" stroke="none" stroke-width="1" />
<polyline points="51.20,391.00 98.41,362.52 114.14,351.07 129.88,334.03 145.61,326.58 166.59,318.06 182.32,292.24" stroke="#000" stroke-width="1.4" fill="none" stroke-linejoin="round" />
<circle cx="51.20" cy="391.00" r="3.2" fill="#000"/>
<circle cx="98.41" cy="362.52" r="3.2" fill="#000"/>
<circle cx="114.14" cy="351.07" r="3.2" fill="#000"/>
<circle cx="129.88" cy="334.03" r="3.2" fill="#000"/>
<circle cx="145.61" cy="326.58" r="3.2" fill="#000"/>
<circle cx="166.59" cy="318.06" r="3.2" fill="#000"/>
<circle cx="182.32" cy="292.24" r="3.2" fill="#000"/>
<line x1="191.20" y1="306.00" x2="191.20" y2="361.40" stroke="#000" stroke-width="1.2" />
<text transform="translate(194.2,335.0) rotate(90)" font-size="9.8" text-anchor="middle" fill="#000" stroke="#000" stroke-width="0.25">&lt;0.0001</text>
<line x1="63.50" y1="254.60" x2="78.00" y2="254.60" stroke="#000" stroke-width="1.4" />
<circle cx="70.80" cy="254.60" r="3.2" fill="#000"/>
<line x1="63.50" y1="268.80" x2="78.00" y2="268.80" stroke="#e8845d" stroke-width="1.4" />
<rect x="67.80" y="265.80" width="6.00" height="6.00" fill="#e8845d" stroke="none" stroke-width="1" />
<line x1="63.50" y1="289.60" x2="78.00" y2="289.60" stroke="#1f8b8b" stroke-width="1.4" />
<polygon points="67.40,292.66 74.20,292.66 70.80,286.54" fill="#1f8b8b" stroke="none" stroke-width="1" />
<text x="86.20" y="257.80" font-size="9.6" text-anchor="start" fill="#000"  stroke="#000" stroke-width="0.25">Ctrl</text>
<text x="86.50" y="272.00" font-size="9.6" text-anchor="start" fill="#000"  stroke="#000" stroke-width="0.25"><tspan font-style="italic">O</tspan>-IMDQ+X-Ray</text>
<text x="86.50" y="288.70" font-size="9.6" text-anchor="start" fill="#000"  stroke="#000" stroke-width="0.25">+ IFNαR blocking</text>
<text x="86.50" y="298.80" font-size="9.6" text-anchor="start" fill="#000"  stroke="#000" stroke-width="0.25">antibody</text>
<text x="239.00" y="256.00" font-size="15.5" text-anchor="start" fill="#000"  stroke="#000" stroke-width="0.25">d</text>
<line x1="288.00" y1="252.70" x2="288.00" y2="385.90" stroke="#000" stroke-width="1.3" />
<line x1="282.60" y1="385.30" x2="288.00" y2="385.30" stroke="#000" stroke-width="1.3" />
<text x="280.60" y="388.80" font-size="9.8" text-anchor="end" fill="#000"  stroke="#000" stroke-width="0.25">0</text>
<line x1="282.60" y1="358.86" x2="288.00" y2="358.86" stroke="#000" stroke-width="1.3" />
<text x="280.60" y="362.36" font-size="9.8" text-anchor="end" fill="#000"  stroke="#000" stroke-width="0.25">2</text>
<line x1="282.60" y1="332.42" x2="288.00" y2="332.42" stroke="#000" stroke-width="1.3" />
<text x="280.60" y="335.92" font-size="9.8" text-anchor="end" fill="#000"  stroke="#000" stroke-width="0.25">4</text>
<line x1="282.60" y1="305.98" x2="288.00" y2="305.98" stroke="#000" stroke-width="1.3" />
<text x="280.60" y="309.48" font-size="9.8" text-anchor="end" fill="#000"  stroke="#000" stroke-width="0.25">6</text>
<line x1="282.60" y1="279.54" x2="288.00" y2="279.54" stroke="#000" stroke-width="1.3" />
<text x="280.60" y="283.04" font-size="9.8" text-anchor="end" fill="#000"  stroke="#000" stroke-width="0.25">8</text>
<line x1="282.60" y1="253.10" x2="288.00" y2="253.10" stroke="#000" stroke-width="1.3" />
<text x="280.60" y="256.60" font-size="9.8" text-anchor="end" fill="#000"  stroke="#000" stroke-width="0.25">10</text>
<line x1="288.00" y1="385.30" x2="418.20" y2="385.30" stroke="#000" stroke-width="1.3" />
<line x1="318.50" y1="385.30" x2="318.50" y2="390.20" stroke="#000" stroke-width="1.3" />
<line x1="386.30" y1="385.30" x2="386.30" y2="390.20" stroke="#000" stroke-width="1.3" />
<text x="318.60" y="400.50" font-size="10.4" text-anchor="middle" fill="#000"  stroke="#000" stroke-width="0.25">WT</text>
<text x="389.30" y="400.50" font-size="10.4" text-anchor="middle" fill="#000"  stroke="#000" stroke-width="0.25">MyD88 KO</text>
<text transform="translate(254.8,320.3) rotate(-90)" font-size="10.7" text-anchor="middle" fill="#000" stroke="#000" stroke-width="0.25"><tspan font-style="italic">IFNα</tspan> mRNA</text>
<text transform="translate(266.8,320.3) rotate(-90)" font-size="10.7" text-anchor="middle" fill="#000" stroke="#000" stroke-width="0.25">relative level</text>
<rect x="295.00" y="370.80" width="10.30" height="14.50" fill="#fff" stroke="#000" stroke-width="1.4"/>
<rect x="313.80" y="312.30" width="10.30" height="73.00" fill="#fff" stroke="#e8845d" stroke-width="1.4"/>
<rect x="332.10" y="272.10" width="10.30" height="113.20" fill="#fff" stroke="#1f8b8b" stroke-width="1.4"/>
<line x1="318.90" y1="318.20" x2="318.90" y2="305.80" stroke="#e8845d" stroke-width="1.2" />
<line x1="316.40" y1="305.80" x2="321.40" y2="305.80" stroke="#e8845d" stroke-width="1.2" />
<line x1="316.40" y1="318.20" x2="321.40" y2="318.20" stroke="#e8845d" stroke-width="1.2" />
<line x1="316.40" y1="312.30" x2="321.40" y2="312.30" stroke="#e8845d" stroke-width="1.2" />
<line x1="337.30" y1="275.50" x2="337.30" y2="266.90" stroke="#1f8b8b" stroke-width="1.2" />
<line x1="334.80" y1="266.90" x2="339.80" y2="266.90" stroke="#1f8b8b" stroke-width="1.2" />
<line x1="334.80" y1="275.50" x2="339.80" y2="275.50" stroke="#1f8b8b" stroke-width="1.2" />
<line x1="334.80" y1="272.10" x2="339.80" y2="272.10" stroke="#1f8b8b" stroke-width="1.2" />
<circle cx="295.70" cy="366.90" r="2.45" fill="#000"/>
<circle cx="300.40" cy="367.70" r="2.45" fill="#000"/>
<circle cx="304.20" cy="370.50" r="2.45" fill="#000"/>
<circle cx="295.40" cy="373.90" r="2.45" fill="#000"/>
<circle cx="299.50" cy="369.50" r="2.45" fill="#000"/>
<rect x="316.10" y="298.10" width="5.00" height="5.00" fill="#e8845d" stroke="none" stroke-width="1" />
<rect x="316.10" y="301.10" width="5.00" height="5.00" fill="#e8845d" stroke="none" stroke-width="1" />
<rect x="316.10" y="317.10" width="5.00" height="5.00" fill="#e8845d" stroke="none" stroke-width="1" />
<rect x="316.10" y="320.90" width="5.00" height="5.00" fill="#e8845d" stroke="none" stroke-width="1" />
<polygon points="330.30,266.82 335.90,266.82 333.10,261.78" fill="#1f8b8b" stroke="none" stroke-width="1" />
<polygon points="338.70,266.12 344.30,266.12 341.50,261.08" fill="#1f8b8b" stroke="none" stroke-width="1" />
<polygon points="330.30,283.82 335.90,283.82 333.10,278.78" fill="#1f8b8b" stroke="none" stroke-width="1" />
<polygon points="338.70,281.82 344.30,281.82 341.50,276.78" fill="#1f8b8b" stroke="none" stroke-width="1" />
<rect x="363.00" y="379.80" width="10.30" height="5.50" fill="#fff" stroke="#000" stroke-width="1.4"/>
<rect x="381.20" y="378.90" width="10.90" height="6.40" fill="#fff" stroke="#e8845d" stroke-width="1.4"/>
<rect x="400.30" y="384.60" width="10.20" height="0.70" fill="#fff" stroke="#1f8b8b" stroke-width="1.4"/>
<line x1="368.10" y1="381.00" x2="368.10" y2="375.10" stroke="#000" stroke-width="1.2" />
<line x1="365.60" y1="375.10" x2="370.60" y2="375.10" stroke="#000" stroke-width="1.2" />
<line x1="365.60" y1="381.00" x2="370.60" y2="381.00" stroke="#000" stroke-width="1.2" />
<line x1="365.60" y1="379.80" x2="370.60" y2="379.80" stroke="#000" stroke-width="1.2" />
<line x1="386.60" y1="381.50" x2="386.60" y2="376.00" stroke="#e8845d" stroke-width="1.2" />
<line x1="384.10" y1="376.00" x2="389.10" y2="376.00" stroke="#e8845d" stroke-width="1.2" />
<line x1="384.10" y1="381.50" x2="389.10" y2="381.50" stroke="#e8845d" stroke-width="1.2" />
<line x1="384.10" y1="378.90" x2="389.10" y2="378.90" stroke="#e8845d" stroke-width="1.2" />
<circle cx="364.00" cy="372.30" r="2.45" fill="#000"/>
<circle cx="372.60" cy="372.30" r="2.45" fill="#000"/>
<circle cx="363.50" cy="384.30" r="2.45" fill="#000"/>
<circle cx="372.60" cy="384.30" r="2.45" fill="#000"/>
<rect x="380.00" y="372.60" width="5.00" height="5.00" fill="#e8845d" stroke="none" stroke-width="1" />
<rect x="388.10" y="368.30" width="5.00" height="5.00" fill="#e8845d" stroke="none" stroke-width="1" />
<rect x="380.00" y="380.20" width="5.00" height="5.00" fill="#e8845d" stroke="none" stroke-width="1" />
<rect x="388.50" y="380.20" width="5.00" height="5.00" fill="#e8845d" stroke="none" stroke-width="1" />
<polygon points="399.30,385.58 403.70,385.58 401.50,381.62" fill="#1f8b8b" stroke="none" stroke-width="1" />
<polygon points="403.30,385.58 407.70,385.58 405.50,381.62" fill="#1f8b8b" stroke="none" stroke-width="1" />
<polygon points="407.30,385.58 411.70,385.58 409.50,381.62" fill="#1f8b8b" stroke="none" stroke-width="1" />
<text x="328.20" y="252.30" font-size="9.6" text-anchor="middle" fill="#000"  stroke="#000" stroke-width="0.25">&lt;0.0001</text>
<line x1="316.20" y1="255.00" x2="338.40" y2="255.00" stroke="#333" stroke-width="1.2" />
<text x="398.40" y="358.50" font-size="10.7" text-anchor="middle" fill="#000"  stroke="#000" stroke-width="0.25">ns</text>
<line x1="386.80" y1="362.00" x2="408.90" y2="362.00" stroke="#333" stroke-width="1.2" />
<text x="426.00" y="256.00" font-size="15.5" text-anchor="start" fill="#000"  stroke="#000" stroke-width="0.25">e</text>
<line x1="481.60" y1="252.70" x2="481.60" y2="386.00" stroke="#000" stroke-width="1.3" />
<line x1="476.20" y1="385.40" x2="481.60" y2="385.40" stroke="#000" stroke-width="1.3" />
<text x="474.20" y="388.90" font-size="9.8" text-anchor="end" fill="#000"  stroke="#000" stroke-width="0.25">0</text>
<line x1="476.20" y1="358.95" x2="481.60" y2="358.95" stroke="#000" stroke-width="1.3" />
<text x="474.20" y="362.45" font-size="9.8" text-anchor="end" fill="#000"  stroke="#000" stroke-width="0.25">20</text>
<line x1="476.20" y1="332.50" x2="481.60" y2="332.50" stroke="#000" stroke-width="1.3" />
<text x="474.20" y="336.00" font-size="9.8" text-anchor="end" fill="#000"  stroke="#000" stroke-width="0.25">40</text>
<line x1="476.20" y1="306.05" x2="481.60" y2="306.05" stroke="#000" stroke-width="1.3" />
<text x="474.20" y="309.55" font-size="9.8" text-anchor="end" fill="#000"  stroke="#000" stroke-width="0.25">60</text>
<line x1="476.20" y1="279.60" x2="481.60" y2="279.60" stroke="#000" stroke-width="1.3" />
<text x="474.20" y="283.10" font-size="9.8" text-anchor="end" fill="#000"  stroke="#000" stroke-width="0.25">80</text>
<line x1="476.20" y1="253.15" x2="481.60" y2="253.15" stroke="#000" stroke-width="1.3" />
<text x="474.20" y="256.65" font-size="9.8" text-anchor="end" fill="#000"  stroke="#000" stroke-width="0.25">100</text>
<line x1="481.60" y1="385.40" x2="613.00" y2="385.40" stroke="#000" stroke-width="1.3" />
<line x1="512.60" y1="385.40" x2="512.60" y2="390.20" stroke="#000" stroke-width="1.3" />
<line x1="580.50" y1="385.40" x2="580.50" y2="390.20" stroke="#000" stroke-width="1.3" />
<text x="512.80" y="400.50" font-size="10.4" text-anchor="middle" fill="#000"  stroke="#000" stroke-width="0.25">WT</text>
<text x="583.30" y="400.50" font-size="10.4" text-anchor="middle" fill="#000"  stroke="#000" stroke-width="0.25">MyD88 KO</text>
<text transform="translate(438.6,318.6) rotate(-90)" font-size="10.8" text-anchor="middle" fill="#000" stroke="#000" stroke-width="0.25"><tspan font-style="italic">Cxcl10</tspan> mRNA</text>
<text transform="translate(450.6,318.6) rotate(-90)" font-size="10.8" text-anchor="middle" fill="#000" stroke="#000" stroke-width="0.25">relative level</text>
<rect x="489.00" y="380.80" width="10.70" height="4.60" fill="#fff" stroke="#000" stroke-width="1.4"/>
<rect x="508.00" y="349.70" width="10.30" height="35.70" fill="#fff" stroke="#e8845d" stroke-width="1.4"/>
<rect x="526.50" y="289.60" width="10.50" height="95.80" fill="#fff" stroke="#1f8b8b" stroke-width="1.4"/>
<line x1="494.30" y1="382.50" x2="494.30" y2="379.00" stroke="#000" stroke-width="1.2" />
<line x1="491.80" y1="379.00" x2="496.80" y2="379.00" stroke="#000" stroke-width="1.2" />
<line x1="491.80" y1="382.50" x2="496.80" y2="382.50" stroke="#000" stroke-width="1.2" />
<line x1="491.80" y1="380.80" x2="496.80" y2="380.80" stroke="#000" stroke-width="1.2" />
<line x1="531.80" y1="298.50" x2="531.80" y2="279.40" stroke="#1f8b8b" stroke-width="1.2" />
<line x1="529.30" y1="279.40" x2="534.30" y2="279.40" stroke="#1f8b8b" stroke-width="1.2" />
<line x1="529.30" y1="298.50" x2="534.30" y2="298.50" stroke="#1f8b8b" stroke-width="1.2" />
<line x1="529.30" y1="289.60" x2="534.30" y2="289.60" stroke="#1f8b8b" stroke-width="1.2" />
<circle cx="490.00" cy="377.90" r="2.45" fill="#000"/>
<circle cx="498.70" cy="377.60" r="2.45" fill="#000"/>
<circle cx="490.00" cy="383.90" r="2.45" fill="#000"/>
<circle cx="498.70" cy="383.50" r="2.45" fill="#000"/>
<rect x="506.00" y="349.10" width="5.00" height="5.00" fill="#e8845d" stroke="none" stroke-width="1" />
<rect x="508.50" y="345.80" width="5.00" height="5.00" fill="#e8845d" stroke="none" stroke-width="1" />
<rect x="512.30" y="347.10" width="5.00" height="5.00" fill="#e8845d" stroke="none" stroke-width="1" />
<rect x="515.10" y="346.80" width="5.00" height="5.00" fill="#e8845d" stroke="none" stroke-width="1" />
<polygon points="524.80,276.92 530.40,276.92 527.60,271.88" fill="#1f8b8b" stroke="none" stroke-width="1" />
<polygon points="533.00,274.42 538.60,274.42 535.80,269.38" fill="#1f8b8b" stroke="none" stroke-width="1" />
<polygon points="528.90,304.12 534.50,304.12 531.70,299.08" fill="#1f8b8b" stroke="none" stroke-width="1" />
<polygon points="528.90,309.82 534.50,309.82 531.70,304.78" fill="#1f8b8b" stroke="none" stroke-width="1" />
<circle cx="557.50" cy="384.40" r="2.45" fill="#000"/>
<circle cx="561.50" cy="384.40" r="2.45" fill="#000"/>
<circle cx="565.00" cy="384.40" r="2.45" fill="#000"/>
<circle cx="568.00" cy="384.40" r="2.45" fill="#000"/>
<rect x="574.00" y="382.30" width="5.00" height="5.00" fill="#e8845d" stroke="none" stroke-width="1" />
<rect x="577.50" y="382.70" width="5.00" height="5.00" fill="#e8845d" stroke="none" stroke-width="1" />
<rect x="581.00" y="381.50" width="5.00" height="5.00" fill="#e8845d" stroke="none" stroke-width="1" />
<rect x="583.50" y="380.90" width="5.00" height="5.00" fill="#e8845d" stroke="none" stroke-width="1" />
<polygon points="593.30,386.58 597.70,386.58 595.50,382.62" fill="#1f8b8b" stroke="none" stroke-width="1" />
<polygon points="597.10,386.58 601.50,386.58 599.30,382.62" fill="#1f8b8b" stroke="none" stroke-width="1" />
<polygon points="600.90,386.58 605.30,386.58 603.10,382.62" fill="#1f8b8b" stroke="none" stroke-width="1" />
<polygon points="603.80,386.58 608.20,386.58 606.00,382.62" fill="#1f8b8b" stroke="none" stroke-width="1" />
<text x="522.50" y="260.70" font-size="9.4" text-anchor="middle" fill="#000"  stroke="#000" stroke-width="0.25">&lt;0.0001</text>
<line x1="509.70" y1="264.10" x2="532.30" y2="264.10" stroke="#333" stroke-width="1.2" />
<text x="591.50" y="366.30" font-size="10.7" text-anchor="middle" fill="#000"  stroke="#000" stroke-width="0.25">ns</text>
<line x1="579.30" y1="369.90" x2="601.80" y2="369.90" stroke="#333" stroke-width="1.2" />
<circle cx="594.50" cy="251.70" r="2.2" fill="#000"/>
<rect x="592.30" y="267.00" width="4.40" height="4.40" fill="#e8845d" stroke="none" stroke-width="1" />
<polygon points="592.20,289.07 596.80,289.07 594.50,284.93" fill="#1f8b8b" stroke="none" stroke-width="1" />
<text x="609.80" y="255.00" font-size="9.85" text-anchor="start" fill="#000"  stroke="#000" stroke-width="0.25">Ctrl</text>
<text x="609.80" y="272.40" font-size="9.85" text-anchor="start" fill="#000"  stroke="#000" stroke-width="0.25">X-Ray</text>
<text x="609.80" y="289.70" font-size="9.85" text-anchor="start" fill="#000"  stroke="#000" stroke-width="0.25"><tspan font-style="italic">O</tspan>-IMDQ+X-Ray</text>
<text x="0.00" y="446.00" font-size="15.5" text-anchor="start" fill="#000"  stroke="#000" stroke-width="0.25">f</text>
<text x="142.10" y="458.00" font-size="11.65" text-anchor="middle" fill="#000"  stroke="#000" stroke-width="0.25">RAW-Lucia ISG cells</text>
<line x1="82.40" y1="472.50" x2="82.40" y2="600.60" stroke="#000" stroke-width="1.3" />
<line x1="77.60" y1="600.00" x2="82.40" y2="600.00" stroke="#000" stroke-width="1.3" />
<text x="75.60" y="603.50" font-size="9.8" text-anchor="end" fill="#000"  stroke="#000" stroke-width="0.25">0</text>
<line x1="77.60" y1="568.25" x2="82.40" y2="568.25" stroke="#000" stroke-width="1.3" />
<text x="75.60" y="571.75" font-size="9.8" text-anchor="end" fill="#000"  stroke="#000" stroke-width="0.25">1</text>
<line x1="77.60" y1="536.50" x2="82.40" y2="536.50" stroke="#000" stroke-width="1.3" />
<text x="75.60" y="540.00" font-size="9.8" text-anchor="end" fill="#000"  stroke="#000" stroke-width="0.25">2</text>
<line x1="77.60" y1="504.75" x2="82.40" y2="504.75" stroke="#000" stroke-width="1.3" />
<text x="75.60" y="508.25" font-size="9.8" text-anchor="end" fill="#000"  stroke="#000" stroke-width="0.25">3</text>
<line x1="77.60" y1="473.00" x2="82.40" y2="473.00" stroke="#000" stroke-width="1.3" />
<text x="75.60" y="476.50" font-size="9.8" text-anchor="end" fill="#000"  stroke="#000" stroke-width="0.25">4</text>
<line x1="82.40" y1="600.00" x2="206.20" y2="600.00" stroke="#000" stroke-width="1.3" />
<line x1="111.30" y1="600.00" x2="111.30" y2="604.60" stroke="#000" stroke-width="1.3" />
<line x1="176.40" y1="600.00" x2="176.40" y2="604.60" stroke="#000" stroke-width="1.3" />
<text x="111.30" y="615.50" font-size="10.4" text-anchor="middle" fill="#000"  stroke="#000" stroke-width="0.25">WT</text>
<text x="184.60" y="615.50" font-size="10.4" text-anchor="middle" fill="#000"  stroke="#000" stroke-width="0.25">STING KO</text>
<text transform="translate(38.4,534) rotate(-90)" font-size="10.8" text-anchor="middle" fill="#000" stroke="#000" stroke-width="0.25">Flod induction of</text>
<text transform="translate(50.7,534) rotate(-90)" font-size="10.8" text-anchor="middle" fill="#000" stroke="#000" stroke-width="0.25">IRF immune response</text>
<text transform="translate(62.9,534) rotate(-90)" font-size="10.8" text-anchor="middle" fill="#000" stroke="#000" stroke-width="0.25">(Relative to control)</text>
<rect x="88.90" y="568.90" width="10.00" height="31.10" fill="#fff" stroke="#000" stroke-width="1.4"/>
<rect x="106.90" y="541.00" width="10.00" height="59.00" fill="#fff" stroke="#e8845d" stroke-width="1.4"/>
<rect x="124.50" y="512.00" width="9.80" height="88.00" fill="#fff" stroke="#1f8b8b" stroke-width="1.4"/>
<line x1="129.40" y1="517.90" x2="129.40" y2="506.20" stroke="#1f8b8b" stroke-width="1.2" />
<line x1="126.90" y1="506.20" x2="131.90" y2="506.20" stroke="#1f8b8b" stroke-width="1.2" />
<line x1="126.90" y1="517.90" x2="131.90" y2="517.90" stroke="#1f8b8b" stroke-width="1.2" />
<line x1="126.90" y1="512.00" x2="131.90" y2="512.00" stroke="#1f8b8b" stroke-width="1.2" />
<circle cx="89.60" cy="569.90" r="2.45" fill="#000"/>
<circle cx="93.70" cy="566.40" r="2.45" fill="#000"/>
<circle cx="97.90" cy="568.20" r="2.45" fill="#000"/>
<rect x="105.10" y="539.80" width="5.00" height="5.00" fill="#e8845d" stroke="none" stroke-width="1" />
<rect x="109.40" y="537.10" width="5.00" height="5.00" fill="#e8845d" stroke="none" stroke-width="1" />
<rect x="113.60" y="538.50" width="5.00" height="5.00" fill="#e8845d" stroke="none" stroke-width="1" />
<polygon points="126.80,505.12 132.40,505.12 129.60,500.08" fill="#1f8b8b" stroke="none" stroke-width="1" />
<polygon points="126.80,517.82 132.40,517.82 129.60,512.78" fill="#1f8b8b" stroke="none" stroke-width="1" />
<polygon points="126.80,521.72 132.40,521.72 129.60,516.68" fill="#1f8b8b" stroke="none" stroke-width="1" />
<rect x="153.80" y="568.90" width="9.70" height="31.10" fill="#fff" stroke="#000" stroke-width="1.4"/>
<rect x="171.40" y="577.10" width="10.40" height="22.90" fill="#fff" stroke="#e8845d" stroke-width="1.4"/>
<rect x="189.40" y="575.50" width="9.90" height="24.50" fill="#fff" stroke="#1f8b8b" stroke-width="1.4"/>
<line x1="158.60" y1="572.50" x2="158.60" y2="565.30" stroke="#000" stroke-width="1.2" />
<line x1="156.10" y1="565.30" x2="161.10" y2="565.30" stroke="#000" stroke-width="1.2" />
<line x1="156.10" y1="572.50" x2="161.10" y2="572.50" stroke="#000" stroke-width="1.2" />
<line x1="156.10" y1="568.90" x2="161.10" y2="568.90" stroke="#000" stroke-width="1.2" />
<line x1="194.30" y1="577.50" x2="194.30" y2="570.00" stroke="#1f8b8b" stroke-width="1.2" />
<line x1="191.80" y1="570.00" x2="196.80" y2="570.00" stroke="#1f8b8b" stroke-width="1.2" />
<line x1="191.80" y1="577.50" x2="196.80" y2="577.50" stroke="#1f8b8b" stroke-width="1.2" />
<line x1="191.80" y1="575.50" x2="196.80" y2="575.50" stroke="#1f8b8b" stroke-width="1.2" />
<circle cx="155.00" cy="570.80" r="2.45" fill="#000"/>
<circle cx="158.80" cy="564.40" r="2.45" fill="#000"/>
<circle cx="162.90" cy="568.90" r="2.45" fill="#000"/>
<rect x="169.90" y="574.90" width="5.00" height="5.00" fill="#e8845d" stroke="none" stroke-width="1" />
<rect x="173.90" y="574.10" width="5.00" height="5.00" fill="#e8845d" stroke="none" stroke-width="1" />
<rect x="178.10" y="574.90" width="5.00" height="5.00" fill="#e8845d" stroke="none" stroke-width="1" />
<polygon points="191.10,569.92 196.70,569.92 193.90,564.88" fill="#1f8b8b" stroke="none" stroke-width="1" />
<polygon points="188.10,577.32 193.70,577.32 190.90,572.28" fill="#1f8b8b" stroke="none" stroke-width="1" />
<polygon points="195.80,577.32 201.40,577.32 198.60,572.28" fill="#1f8b8b" stroke="none" stroke-width="1" />
<text x="118.70" y="486.70" font-size="9.2" text-anchor="middle" fill="#000"  stroke="#000" stroke-width="0.25">0.002</text>
<line x1="108.10" y1="490.60" x2="129.30" y2="490.60" stroke="#333" stroke-width="1.2" />
<text x="191.00" y="554.30" font-size="10.7" text-anchor="middle" fill="#000"  stroke="#000" stroke-width="0.25">ns</text>
<line x1="179.60" y1="557.50" x2="201.20" y2="557.50" stroke="#333" stroke-width="1.2" />
<text x="253.60" y="429.90" font-size="16" text-anchor="start" fill="#000"  stroke="#000" stroke-width="0.25">g</text>
<text x="381.05" y="442.40" font-size="11.65" text-anchor="middle" fill="#000"  stroke="#000" stroke-width="0.25">MC38 STING KO cells</text>
<line x1="308.80" y1="457.40" x2="308.80" y2="582.30" stroke="#000" stroke-width="1.3" />
<line x1="303.90" y1="581.70" x2="308.80" y2="581.70" stroke="#000" stroke-width="1.3" />
<text x="302.10" y="585.20" font-size="8.8" text-anchor="end" fill="#000"  stroke="#000" stroke-width="0.25">0</text>
<line x1="303.90" y1="540.50" x2="308.80" y2="540.50" stroke="#000" stroke-width="1.3" />
<text x="302.10" y="544.00" font-size="8.8" text-anchor="end" fill="#000"  stroke="#000" stroke-width="0.25">500</text>
<line x1="303.90" y1="499.30" x2="308.80" y2="499.30" stroke="#000" stroke-width="1.3" />
<text x="302.10" y="502.80" font-size="8.8" text-anchor="end" fill="#000"  stroke="#000" stroke-width="0.25">1000</text>
<line x1="303.90" y1="458.10" x2="308.80" y2="458.10" stroke="#000" stroke-width="1.3" />
<text x="302.10" y="461.60" font-size="8.8" text-anchor="end" fill="#000"  stroke="#000" stroke-width="0.25">1500</text>
<line x1="308.20" y1="581.70" x2="439.60" y2="581.70" stroke="#000" stroke-width="1.3" />
<line x1="308.80" y1="581.70" x2="308.80" y2="585.90" stroke="#000" stroke-width="1.3" />
<text x="308.80" y="597.00" font-size="9.4" text-anchor="middle" fill="#000"  stroke="#000" stroke-width="0.25">0</text>
<line x1="352.43" y1="581.70" x2="352.43" y2="585.90" stroke="#000" stroke-width="1.3" />
<text x="352.43" y="597.00" font-size="9.4" text-anchor="middle" fill="#000"  stroke="#000" stroke-width="0.25">10</text>
<line x1="396.06" y1="581.70" x2="396.06" y2="585.90" stroke="#000" stroke-width="1.3" />
<text x="396.06" y="597.00" font-size="9.4" text-anchor="middle" fill="#000"  stroke="#000" stroke-width="0.25">20</text>
<line x1="439.69" y1="581.70" x2="439.69" y2="585.90" stroke="#000" stroke-width="1.3" />
<text x="439.69" y="597.00" font-size="9.4" text-anchor="middle" fill="#000"  stroke="#000" stroke-width="0.25">30</text>
<text x="378.30" y="611.70" font-size="10.9" text-anchor="middle" fill="#000"  stroke="#000" stroke-width="0.25">Days after tumor inoculation</text>
<text transform="translate(274.3,514.4) rotate(-90)" font-size="10.6" text-anchor="middle" fill="#000" stroke="#000" stroke-width="0.25">Tumor volume (mm<tspan font-size="6.5" dy="-3.5">3</tspan><tspan dy="3.5">)</tspan></text>
<line x1="387.10" y1="570.50" x2="387.10" y2="566.80" stroke="#1f8b8b" stroke-width="1.1" />
<line x1="384.80" y1="566.80" x2="389.40" y2="566.80" stroke="#1f8b8b" stroke-width="1.1" />
<line x1="400.10" y1="570.10" x2="400.10" y2="565.30" stroke="#1f8b8b" stroke-width="1.1" />
<line x1="397.80" y1="565.30" x2="402.40" y2="565.30" stroke="#1f8b8b" stroke-width="1.1" />
<line x1="421.50" y1="568.30" x2="421.50" y2="563.90" stroke="#1f8b8b" stroke-width="1.1" />
<line x1="419.20" y1="563.90" x2="423.80" y2="563.90" stroke="#1f8b8b" stroke-width="1.1" />
<line x1="387.10" y1="557.40" x2="387.10" y2="552.60" stroke="#e8845d" stroke-width="1.1" />
<line x1="384.80" y1="552.60" x2="389.40" y2="552.60" stroke="#e8845d" stroke-width="1.1" />
<line x1="400.10" y1="555.40" x2="400.10" y2="551.50" stroke="#e8845d" stroke-width="1.1" />
<line x1="397.80" y1="551.50" x2="402.40" y2="551.50" stroke="#e8845d" stroke-width="1.1" />
<line x1="421.50" y1="547.70" x2="421.50" y2="539.90" stroke="#e8845d" stroke-width="1.1" />
<line x1="419.20" y1="539.90" x2="423.80" y2="539.90" stroke="#e8845d" stroke-width="1.1" />
<line x1="387.10" y1="542.60" x2="387.10" y2="531.80" stroke="#000" stroke-width="1.1" />
<line x1="384.80" y1="531.80" x2="389.40" y2="531.80" stroke="#000" stroke-width="1.1" />
<line x1="400.20" y1="526.40" x2="400.20" y2="513.60" stroke="#000" stroke-width="1.1" />
<line x1="397.90" y1="513.60" x2="402.50" y2="513.60" stroke="#000" stroke-width="1.1" />
<line x1="421.80" y1="498.00" x2="421.80" y2="490.00" stroke="#000" stroke-width="1.1" />
<line x1="419.50" y1="490.00" x2="424.10" y2="490.00" stroke="#000" stroke-width="1.1" />
<polyline points="308.80,581.70 352.60,570.50 369.60,563.90 387.10,557.40 400.10,555.40 421.50,547.70" stroke="#e8845d" stroke-width="1.4" fill="none" stroke-linejoin="round" />
<rect x="305.85" y="578.75" width="5.90" height="5.90" fill="#e8845d" stroke="none" stroke-width="1" />
<rect x="349.65" y="567.55" width="5.90" height="5.90" fill="#e8845d" stroke="none" stroke-width="1" />
<rect x="366.65" y="560.95" width="5.90" height="5.90" fill="#e8845d" stroke="none" stroke-width="1" />
<rect x="384.15" y="554.45" width="5.90" height="5.90" fill="#e8845d" stroke="none" stroke-width="1" />
<rect x="397.15" y="552.45" width="5.90" height="5.90" fill="#e8845d" stroke="none" stroke-width="1" />
<rect x="418.55" y="544.75" width="5.90" height="5.90" fill="#e8845d" stroke="none" stroke-width="1" />
<polyline points="308.80,581.70 352.60,572.30 369.60,569.00 387.10,570.50 400.10,570.10 421.50,568.30" stroke="#1f8b8b" stroke-width="1.4" fill="none" stroke-linejoin="round" />
<polygon points="305.50,584.67 312.10,584.67 308.80,578.73" fill="#1f8b8b" stroke="none" stroke-width="1" />
<polygon points="349.30,575.27 355.90,575.27 352.60,569.33" fill="#1f8b8b" stroke="none" stroke-width="1" />
<polygon points="366.30,571.97 372.90,571.97 369.60,566.03" fill="#1f8b8b" stroke="none" stroke-width="1" />
<polygon points="383.80,573.47 390.40,573.47 387.10,567.53" fill="#1f8b8b" stroke="none" stroke-width="1" />
<polygon points="396.80,573.07 403.40,573.07 400.10,567.13" fill="#1f8b8b" stroke="none" stroke-width="1" />
<polygon points="418.20,571.27 424.80,571.27 421.50,565.33" fill="#1f8b8b" stroke="none" stroke-width="1" />
<polyline points="308.80,581.70 352.60,573.40 369.60,564.60 387.10,542.60 400.20,526.40 421.80,498.00" stroke="#000" stroke-width="1.4" fill="none" stroke-linejoin="round" />
<circle cx="308.80" cy="581.70" r="3.1" fill="#000"/>
<circle cx="352.60" cy="573.40" r="3.1" fill="#000"/>
<circle cx="369.60" cy="564.60" r="3.1" fill="#000"/>
<circle cx="387.10" cy="542.60" r="3.1" fill="#000"/>
<circle cx="400.20" cy="526.40" r="3.1" fill="#000"/>
<circle cx="421.80" cy="498.00" r="3.1" fill="#000"/>
<line x1="428.50" y1="548.40" x2="428.50" y2="567.60" stroke="#000" stroke-width="1.1" />
<text transform="translate(433.1,558) rotate(90)" font-size="9.6" text-anchor="middle" fill="#000" stroke="#000" stroke-width="0.25">0.0106</text>
<line x1="318.30" y1="462.30" x2="331.50" y2="462.30" stroke="#000" stroke-width="1.4" />
<circle cx="324.90" cy="462.30" r="3.0" fill="#000"/>
<line x1="318.30" y1="475.40" x2="331.50" y2="475.40" stroke="#e8845d" stroke-width="1.4" />
<rect x="321.95" y="472.45" width="5.90" height="5.90" fill="#e8845d" stroke="none" stroke-width="1" />
<line x1="318.30" y1="488.90" x2="331.50" y2="488.90" stroke="#1f8b8b" stroke-width="1.4" />
<polygon points="321.60,491.87 328.20,491.87 324.90,485.93" fill="#1f8b8b" stroke="none" stroke-width="1" />
<text x="339.30" y="465.00" font-size="9.2" text-anchor="start" fill="#000"  stroke="#000" stroke-width="0.25">Ctrl</text>
<text x="339.30" y="478.50" font-size="9.2" text-anchor="start" fill="#000"  stroke="#000" stroke-width="0.25">X-Ray</text>
<text x="339.70" y="492.00" font-size="9.2" text-anchor="start" fill="#000"  stroke="#000" stroke-width="0.25"><tspan font-style="italic">O</tspan>-IMDQ+X-Ray</text>
<text x="461.50" y="429.80" font-size="14.8" text-anchor="start" fill="#000"  stroke="#000" stroke-width="0.25">h</text>
<text x="595.80" y="445.40" font-size="11.5" text-anchor="middle" fill="#000"  stroke="#000" stroke-width="0.25">STING KO mice</text>
<line x1="523.60" y1="460.50" x2="523.60" y2="583.00" stroke="#000" stroke-width="1.3" />
<line x1="518.60" y1="582.40" x2="523.60" y2="582.40" stroke="#000" stroke-width="1.3" />
<text x="516.90" y="585.90" font-size="9.0" text-anchor="end" fill="#000"  stroke="#000" stroke-width="0.25">0</text>
<line x1="518.60" y1="552.05" x2="523.60" y2="552.05" stroke="#000" stroke-width="1.3" />
<text x="516.90" y="555.55" font-size="9.0" text-anchor="end" fill="#000"  stroke="#000" stroke-width="0.25">200</text>
<line x1="518.60" y1="521.70" x2="523.60" y2="521.70" stroke="#000" stroke-width="1.3" />
<text x="516.90" y="525.20" font-size="9.0" text-anchor="end" fill="#000"  stroke="#000" stroke-width="0.25">400</text>
<line x1="518.60" y1="491.35" x2="523.60" y2="491.35" stroke="#000" stroke-width="1.3" />
<text x="516.90" y="494.85" font-size="9.0" text-anchor="end" fill="#000"  stroke="#000" stroke-width="0.25">600</text>
<line x1="518.60" y1="461.00" x2="523.60" y2="461.00" stroke="#000" stroke-width="1.3" />
<text x="516.90" y="464.50" font-size="9.0" text-anchor="end" fill="#000"  stroke="#000" stroke-width="0.25">800</text>
<line x1="523.00" y1="582.40" x2="659.60" y2="582.40" stroke="#000" stroke-width="1.3" />
<line x1="523.40" y1="582.40" x2="523.40" y2="586.60" stroke="#000" stroke-width="1.3" />
<text x="523.40" y="596.80" font-size="9.4" text-anchor="middle" fill="#000"  stroke="#000" stroke-width="0.25">0</text>
<line x1="568.77" y1="582.40" x2="568.77" y2="586.60" stroke="#000" stroke-width="1.3" />
<text x="568.77" y="596.80" font-size="9.4" text-anchor="middle" fill="#000"  stroke="#000" stroke-width="0.25">10</text>
<line x1="614.14" y1="582.40" x2="614.14" y2="586.60" stroke="#000" stroke-width="1.3" />
<text x="614.14" y="596.80" font-size="9.4" text-anchor="middle" fill="#000"  stroke="#000" stroke-width="0.25">20</text>
<line x1="659.51" y1="582.40" x2="659.51" y2="586.60" stroke="#000" stroke-width="1.3" />
<text x="659.51" y="596.80" font-size="9.4" text-anchor="middle" fill="#000"  stroke="#000" stroke-width="0.25">30</text>
<text x="597.35" y="612.00" font-size="10.9" text-anchor="middle" fill="#000"  stroke="#000" stroke-width="0.25">Days after tumor inoculation</text>
<text transform="translate(490.0,518.0) rotate(-90)" font-size="10.6" text-anchor="middle" fill="#000" stroke="#000" stroke-width="0.25">Tumor volume (mm<tspan font-size="6.5" dy="-3.5">3</tspan><tspan dy="3.5">)</tspan></text>
<line x1="650.60" y1="529.40" x2="650.60" y2="521.20" stroke="#1f8b8b" stroke-width="1.1" />
<line x1="648.30" y1="521.20" x2="652.90" y2="521.20" stroke="#1f8b8b" stroke-width="1.1" />
<line x1="604.80" y1="553.00" x2="604.80" y2="543.40" stroke="#e8845d" stroke-width="1.1" />
<line x1="602.50" y1="543.40" x2="607.10" y2="543.40" stroke="#e8845d" stroke-width="1.1" />
<line x1="650.60" y1="518.80" x2="650.60" y2="495.90" stroke="#e8845d" stroke-width="1.1" />
<line x1="648.30" y1="495.90" x2="652.90" y2="495.90" stroke="#e8845d" stroke-width="1.1" />
<line x1="591.60" y1="557.30" x2="591.60" y2="552.50" stroke="#000" stroke-width="1.1" />
<line x1="589.30" y1="552.50" x2="593.90" y2="552.50" stroke="#000" stroke-width="1.1" />
<line x1="627.70" y1="540.50" x2="627.70" y2="535.60" stroke="#000" stroke-width="1.1" />
<line x1="625.40" y1="535.60" x2="630.00" y2="535.60" stroke="#000" stroke-width="1.1" />
<line x1="650.60" y1="513.20" x2="650.60" y2="486.50" stroke="#000" stroke-width="1.1" />
<line x1="648.30" y1="486.50" x2="652.90" y2="486.50" stroke="#000" stroke-width="1.1" />
<polyline points="523.40,582.40 555.20,562.60 573.30,558.30 591.60,557.80 604.80,554.20 627.70,551.10 650.60,529.40" stroke="#1f8b8b" stroke-width="1.4" fill="none" stroke-linejoin="round" />
<polygon points="520.10,585.37 526.70,585.37 523.40,579.43" fill="#1f8b8b" stroke="none" stroke-width="1" />
<polygon points="551.90,565.57 558.50,565.57 555.20,559.63" fill="#1f8b8b" stroke="none" stroke-width="1" />
<polygon points="570.00,561.27 576.60,561.27 573.30,555.33" fill="#1f8b8b" stroke="none" stroke-width="1" />
<polygon points="588.30,560.77 594.90,560.77 591.60,554.83" fill="#1f8b8b" stroke="none" stroke-width="1" />
<polygon points="601.50,557.17 608.10,557.17 604.80,551.23" fill="#1f8b8b" stroke="none" stroke-width="1" />
<polygon points="624.40,554.07 631.00,554.07 627.70,548.13" fill="#1f8b8b" stroke="none" stroke-width="1" />
<polygon points="647.30,532.37 653.90,532.37 650.60,526.43" fill="#1f8b8b" stroke="none" stroke-width="1" />
<polyline points="523.40,582.40 555.20,563.80 573.30,562.10 591.60,560.20 604.80,553.00 627.70,544.60 650.60,518.80" stroke="#e8845d" stroke-width="1.4" fill="none" stroke-linejoin="round" />
<rect x="520.45" y="579.45" width="5.90" height="5.90" fill="#e8845d" stroke="none" stroke-width="1" />
<rect x="552.25" y="560.85" width="5.90" height="5.90" fill="#e8845d" stroke="none" stroke-width="1" />
<rect x="570.35" y="559.15" width="5.90" height="5.90" fill="#e8845d" stroke="none" stroke-width="1" />
<rect x="588.65" y="557.25" width="5.90" height="5.90" fill="#e8845d" stroke="none" stroke-width="1" />
<rect x="601.85" y="550.05" width="5.90" height="5.90" fill="#e8845d" stroke="none" stroke-width="1" />
<rect x="624.75" y="541.65" width="5.90" height="5.90" fill="#e8845d" stroke="none" stroke-width="1" />
<rect x="647.65" y="515.85" width="5.90" height="5.90" fill="#e8845d" stroke="none" stroke-width="1" />
<polyline points="523.40,582.40 555.20,567.00 573.30,558.50 591.60,557.30 604.80,550.10 627.70,540.50 650.60,513.20" stroke="#000" stroke-width="1.4" fill="none" stroke-linejoin="round" />
<circle cx="523.40" cy="582.40" r="3.1" fill="#000"/>
<circle cx="555.20" cy="567.00" r="3.1" fill="#000"/>
<circle cx="573.30" cy="558.50" r="3.1" fill="#000"/>
<circle cx="591.60" cy="557.30" r="3.1" fill="#000"/>
<circle cx="604.80" cy="550.10" r="3.1" fill="#000"/>
<circle cx="627.70" cy="540.50" r="3.1" fill="#000"/>
<circle cx="650.60" cy="513.20" r="3.1" fill="#000"/>
<line x1="656.50" y1="519.00" x2="656.50" y2="530.40" stroke="#000" stroke-width="1.1" />
<text transform="translate(659.4,524.7) rotate(90)" font-size="10.9" text-anchor="middle" fill="#000" stroke="#000" stroke-width="0.25">ns</text>
<line x1="535.70" y1="464.60" x2="548.50" y2="464.60" stroke="#000" stroke-width="1.4" />
<circle cx="542.20" cy="464.60" r="3.0" fill="#000"/>
<line x1="535.70" y1="477.10" x2="548.50" y2="477.10" stroke="#e8845d" stroke-width="1.4" />
<rect x="539.25" y="474.15" width="5.90" height="5.90" fill="#e8845d" stroke="none" stroke-width="1" />
<line x1="535.70" y1="490.20" x2="548.50" y2="490.20" stroke="#1f8b8b" stroke-width="1.4" />
<polygon points="538.90,493.17 545.50,493.17 542.20,487.23" fill="#1f8b8b" stroke="none" stroke-width="1" />
<text x="555.90" y="467.80" font-size="9.2" text-anchor="start" fill="#000"  stroke="#000" stroke-width="0.25">Ctrl</text>
<text x="555.90" y="480.60" font-size="9.2" text-anchor="start" fill="#000"  stroke="#000" stroke-width="0.25">X-Ray</text>
<text x="555.90" y="493.70" font-size="9.2" text-anchor="start" fill="#000"  stroke="#000" stroke-width="0.25"><tspan font-style="italic">O</tspan>-IMDQ+X-Ray</text>
</svg>
</body></html>
